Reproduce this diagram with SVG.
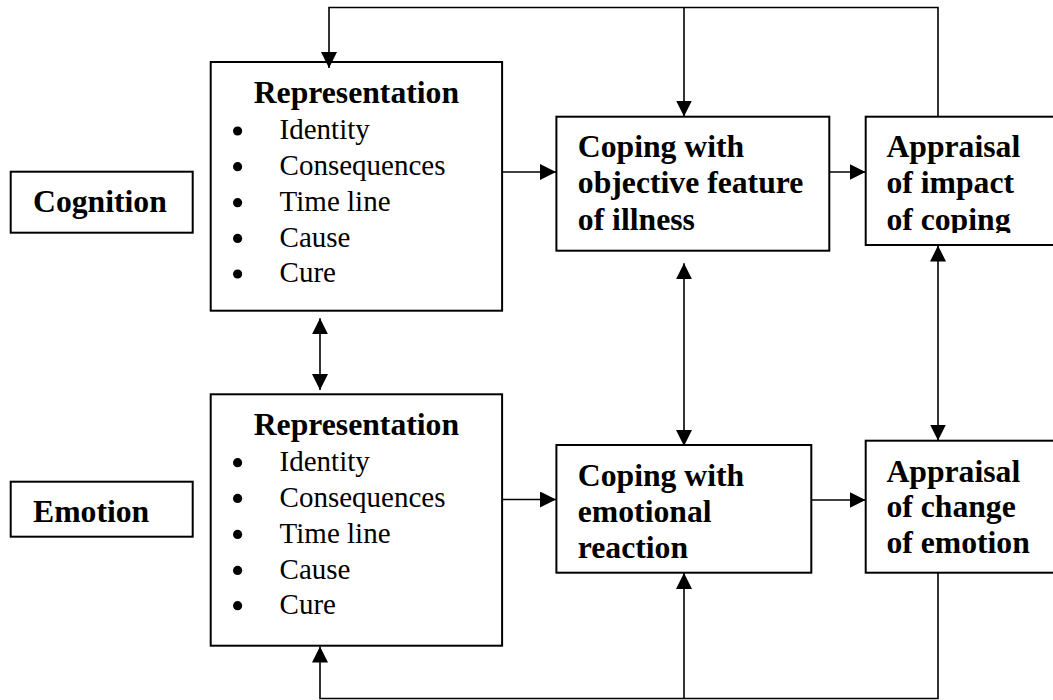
<svg xmlns="http://www.w3.org/2000/svg" width="1053" height="700" viewBox="0 0 1053 700">
<style>
.box{fill:#fff;stroke:#000;stroke-width:2}
.b{font-family:"Liberation Serif","Times New Roman",serif;font-weight:bold;font-size:31.7px;fill:#000}
.r{font-family:"Liberation Serif","Times New Roman",serif;font-size:29px;fill:#000}
.ln{fill:none;stroke:#000;stroke-width:1.6}
.dot{fill:#000}
</style>
<defs>
<marker id="ah" markerUnits="userSpaceOnUse" markerWidth="16" markerHeight="16" viewBox="0 0 15 15" refX="15" refY="7.5" orient="auto-start-reverse">
<path d="M0,0 L15,7.5 L0,15 Z" fill="#000"/>
</marker>
<clipPath id="clipA1"><rect x="860" y="110" width="200" height="123"/></clipPath>
</defs>
<rect width="1053" height="700" fill="#fff"/>

<g id="cognition">
<rect class="box" x="10.7" y="171.7" width="182" height="61"/>
<text class="b" x="33" y="211.7">Cognition</text>
</g>

<g id="emotion">
<rect class="box" x="10.7" y="481.7" width="182" height="55"/>
<text class="b" x="33" y="521.7">Emotion</text>
</g>

<g id="rep-cognition">
<rect class="box" x="210.7" y="62" width="291.4" height="248.7"/>
<text class="b" x="356.4" y="103" text-anchor="middle">Representation</text>
<circle class="dot" cx="237.6" cy="131" r="4.6"/>
<circle class="dot" cx="237.6" cy="166.7" r="4.6"/>
<circle class="dot" cx="237.6" cy="202.7" r="4.6"/>
<circle class="dot" cx="237.6" cy="238.4" r="4.6"/>
<circle class="dot" cx="237.6" cy="274" r="4.6"/>
<text class="r" x="279.6" y="139.3">Identity</text>
<text class="r" x="279.6" y="175">Consequences</text>
<text class="r" x="279.6" y="211">Time line</text>
<text class="r" x="279.6" y="246.7">Cause</text>
<text class="r" x="279.6" y="282.3">Cure</text>
</g>

<g id="rep-emotion">
<rect class="box" x="210.7" y="394.3" width="291.4" height="251.4"/>
<text class="b" x="356.4" y="435" text-anchor="middle">Representation</text>
<circle class="dot" cx="237.6" cy="462.7" r="4.6"/>
<circle class="dot" cx="237.6" cy="498.4" r="4.6"/>
<circle class="dot" cx="237.6" cy="534.4" r="4.6"/>
<circle class="dot" cx="237.6" cy="570.4" r="4.6"/>
<circle class="dot" cx="237.6" cy="605.7" r="4.6"/>
<text class="r" x="279.6" y="471">Identity</text>
<text class="r" x="279.6" y="506.7">Consequences</text>
<text class="r" x="279.6" y="542.7">Time line</text>
<text class="r" x="279.6" y="578.7">Cause</text>
<text class="r" x="279.6" y="614">Cure</text>
</g>

<g id="coping-objective">
<rect class="box" x="556.4" y="116.7" width="272.9" height="134"/>
<text class="b" x="577.8" y="157">Coping with</text>
<text class="b" x="577.8" y="193">objective feature</text>
<text class="b" x="577.8" y="230">of illness</text>
</g>

<g id="appraisal-impact">
<rect class="box" x="865.7" y="116.7" width="200" height="128.3"/>
<g clip-path="url(#clipA1)">
<text class="b" x="886.4" y="157">Appraisal</text>
<text class="b" x="886.4" y="193">of impact</text>
<text class="b" x="886.4" y="230">of coping</text>
</g>
</g>

<g id="coping-emotional">
<rect class="box" x="556.4" y="445" width="254.9" height="127.7"/>
<text class="b" x="577.8" y="485.7">Coping with</text>
<text class="b" x="577.8" y="522">emotional</text>
<text class="b" x="577.8" y="558">reaction</text>
</g>

<g id="appraisal-emotion">
<rect class="box" x="865.7" y="440.7" width="200" height="132"/>
<text class="b" x="886.4" y="481.7">Appraisal</text>
<text class="b" x="886.4" y="516.7">of change</text>
<text class="b" x="886.4" y="553">of emotion</text>
</g>

<g id="connectors">
<path class="ln" d="M938,116.7 V7.5 H329 V68" marker-end="url(#ah)"/>
<path class="ln" d="M684,7.5 V116.5" marker-end="url(#ah)"/>
<path class="ln" d="M320,318.3 V390" marker-start="url(#ah)" marker-end="url(#ah)"/>
<path class="ln" d="M502.1,172 H556" marker-end="url(#ah)"/>
<path class="ln" d="M829.3,172 H865.5" marker-end="url(#ah)"/>
<path class="ln" d="M684,263.3 V446" marker-start="url(#ah)" marker-end="url(#ah)"/>
<path class="ln" d="M938,245.5 V440.5" marker-start="url(#ah)" marker-end="url(#ah)"/>
<path class="ln" d="M502.1,499.5 H556" marker-end="url(#ah)"/>
<path class="ln" d="M811.3,500 H865.5" marker-end="url(#ah)"/>
<path class="ln" d="M938,572.7 V698.5 H320 V646.5" marker-end="url(#ah)"/>
<path class="ln" d="M684,698.5 V573" marker-end="url(#ah)"/>
</g>
</svg>
